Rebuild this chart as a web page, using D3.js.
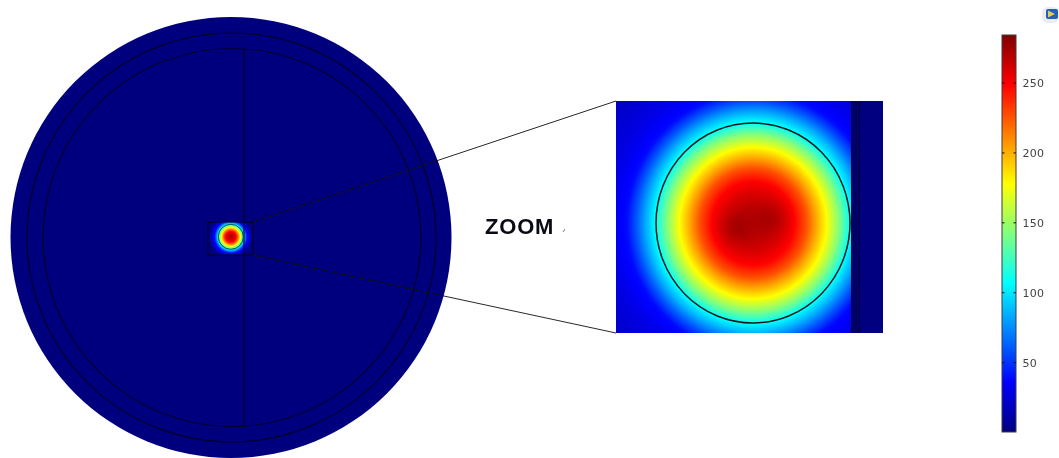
<!DOCTYPE html>
<html>
<head>
<meta charset="utf-8">
<script src="https://cdnjs.cloudflare.com/ajax/libs/d3/7.8.5/d3.min.js"></script>
<style>
html,body{margin:0;padding:0;background:#fff;overflow:hidden}
#wrap{position:relative;width:1059px;height:458px}
canvas,svg{position:absolute;left:0;top:0}
</style>
</head>
<body>
<div id="wrap"><canvas id="heat" width="1059" height="458"></canvas><svg id="chart" width="1059" height="458"></svg></div>
<script>
// Colour bar
const colorValues = [0, 35.5, 106.5, 177.5, 248.5, 284];
const colorStops = ["#00007f", "#0000ff", "#00ffff", "#ffff00", "#ff0000", "#7f0000"];
const colorTicks = [50, 100, 150, 200, 250];
// Radial temperature profile (distance as a fraction of the tube radius)
const profileRadius = [0, 0.15, 0.3, 0.42, 0.55, 0.65, 0.76, 0.88, 1.0, 1.1, 1.2, 1.3, 1.5, 2.0];
const profileTemp = [268, 266, 258, 248, 226, 202, 177, 145, 108, 85, 60, 38, 28, 15];
// Two hot spots in the zoomed tube
const hotX = [-0.2, 0.22];
const hotY = [0.05, -0.05];
const hotGain = [9, 8];
const zoomLabel = "ZOOM";

const W = 1059, H = 458;
const color = d3.scaleLinear().domain(colorValues).range(colorStops).clamp(true);
const profile = d3.scaleLinear().domain(profileRadius).range(profileTemp).clamp(true);

// Layout
const disk = {cx: 231, cy: 237.5, r: 220.5, cx2: 231.5, r2: 204.5, cx3: 232, r3: 189};
const rib = {x: 244};
const box = {x0: 208, x1: 253, y0: 222, y1: 255};
const mini = {cx: 230.8, cy: 236.8, r: 12.5};
const panel = {x0: 616, x1: 883, y0: 101, y1: 333, cx: 753, cy: 223, rx: 97, ry: 100, band: 851, band2: 859};
const bar = {x0: 1002, x1: 1016, y0: 35, y1: 432};

function field(u, v, hot) {
  const d = Math.hypot(u, v);
  let t = profile(d);
  if (hot) hotX.forEach((hx, i) => {
    t += hotGain[i] * Math.exp(-(((u - hx) ** 2 + (v - hotY[i]) ** 2) / 0.03));
  });
  return t;
}

// Heat raster
const ctx = document.getElementById("heat").getContext("2d");
ctx.fillStyle = "#fff"; ctx.fillRect(0, 0, W, H);
ctx.fillStyle = color(0);
ctx.beginPath(); ctx.arc(disk.cx, disk.cy, disk.r, 0, 2 * Math.PI); ctx.fill();

function paint(x0, y0, w, h, fn) {
  const img = ctx.createImageData(w, h);
  for (let j = 0; j < h; j++) for (let i = 0; i < w; i++) {
    const c = d3.rgb(color(fn(x0 + i + 0.5, y0 + j + 0.5)));
    const k = 4 * (j * w + i);
    img.data[k] = c.r; img.data[k + 1] = c.g; img.data[k + 2] = c.b; img.data[k + 3] = 255;
  }
  ctx.putImageData(img, x0, y0);
}
paint(box.x0, box.y0, box.x1 - box.x0, box.y1 - box.y0, (x, y) => {
  const d = Math.hypot(x - mini.cx, y - mini.cy) / mini.r;
  return d < 1.75 ? field(d, 0, false) * (d > 1.4 ? (1.75 - d) / 0.35 : 1) : 0;
});
paint(panel.x0, panel.y0, panel.band - panel.x0, panel.y1 - panel.y0, (x, y) =>
  field((x - panel.cx) / panel.rx, (y - panel.cy) / panel.ry, true));

// Vector overlay
const svg = d3.select("#chart");
const defs = svg.append("defs");
const grad = defs.append("linearGradient").attr("id", "ramp").attr("x1", 0).attr("x2", 0).attr("y1", 1).attr("y2", 0);

const yBar = d3.scaleLinear().domain([0, 284]).range([bar.y1, bar.y0]);
colorValues.forEach((v, i) => grad.append("stop")
  .attr("offset", v / 284).attr("stop-color", colorStops[i]));

// Disk outlines
svg.selectAll("circle.ring").data([[disk.cx2, disk.r2], [disk.cx3, disk.r3]]).join("circle").attr("class", "ring")
  .attr("cx", d => d[0]).attr("cy", disk.cy).attr("r", d => d[1])
  .attr("fill", "none").attr("stroke", "#00002a").attr("stroke-width", 1.2);
svg.append("line").attr("x1", rib.x).attr("x2", rib.x)
  .attr("y1", disk.cy - disk.r3).attr("y2", disk.cy + disk.r3)
  .attr("stroke", "#00002a").attr("stroke-width", 1.2);

// Mini tube and selection box
svg.append("circle").attr("cx", mini.cx).attr("cy", mini.cy).attr("r", mini.r)
  .attr("fill", "none").attr("stroke", "#06242c").attr("stroke-width", 1).attr("stroke-opacity", 0.8);
svg.append("rect").attr("x", box.x0).attr("y", box.y0)
  .attr("width", box.x1 - box.x0).attr("height", box.y1 - box.y0)
  .attr("fill", "none").attr("stroke", "#000018").attr("stroke-width", 1);

// Zoom leader lines
[[box.y0, panel.y0], [box.y1, panel.y1]].forEach(p =>
  svg.append("line").attr("x1", box.x1).attr("y1", p[0]).attr("x2", panel.x0).attr("y2", p[1])
    .attr("stroke", "#111").attr("stroke-width", 0.9));

// Zoomed panel band and tube
svg.append("rect").attr("x", panel.band).attr("y", panel.y0)
  .attr("width", panel.x1 - panel.band).attr("height", panel.y1 - panel.y0).attr("fill", "#000080");
svg.append("rect").attr("x", panel.band).attr("y", panel.y0)
  .attr("width", panel.band2 - panel.band).attr("height", panel.y1 - panel.y0).attr("fill", "#000068");
[panel.band + 0.5, panel.band2 + 0.5].forEach(x =>
  svg.append("line").attr("x1", x).attr("x2", x).attr("y1", panel.y0).attr("y2", panel.y1)
    .attr("stroke", "#00003c").attr("stroke-width", 1));
svg.append("ellipse").attr("cx", panel.cx).attr("cy", panel.cy).attr("rx", panel.rx).attr("ry", panel.ry)
  .attr("fill", "none").attr("stroke", "#0a1a1a").attr("stroke-width", 1.5);

// Label
svg.append("text").attr("x", 485).attr("y", 234).text(zoomLabel)
  .attr("font-family", "Liberation Sans").attr("font-weight", "bold").attr("font-size", 22)
  .attr("letter-spacing", 0.8).attr("fill", "#0a0a14");
svg.append("line").attr("x1", 563).attr("y1", 232).attr("x2", 565).attr("y2", 229)
  .attr("stroke", "#555").attr("stroke-width", 0.8);

// Colour bar
svg.append("rect").attr("x", bar.x0).attr("y", bar.y0)
  .attr("width", bar.x1 - bar.x0).attr("height", bar.y1 - bar.y0)
  .attr("fill", "url(#ramp)").attr("stroke", "#3c3c3c").attr("stroke-width", 1);
const ticks = svg.append("g").selectAll("g").data(colorTicks).join("g")
  .attr("transform", d => `translate(0,${yBar(d)})`);
ticks.append("path").attr("d", `M${bar.x0},0.5h2.5M${bar.x1 - 2.5},0.5h2.5`).attr("stroke", "#111").attr("stroke-width", 1);
ticks.append("text").attr("x", 1022.5).attr("y", 4.5).text(d => d)
  .attr("font-family", "DejaVu Sans").attr("font-size", 11).attr("letter-spacing", 0.2).attr("fill", "#444");

// Corner icon
svg.append("rect").attr("x", 1042).attr("y", 7).attr("width", 17).attr("height", 16).attr("rx", 6).attr("fill", "#e9edf0");
svg.append("rect").attr("x", 1046).attr("y", 9).attr("width", 12).attr("height", 10).attr("rx", 2).attr("fill", "#2460b8");
svg.append("path").attr("d", "M1048,10.5L1055,14L1048,17.5Z").attr("fill", "#e8cc58");
</script>
</body>
</html>
